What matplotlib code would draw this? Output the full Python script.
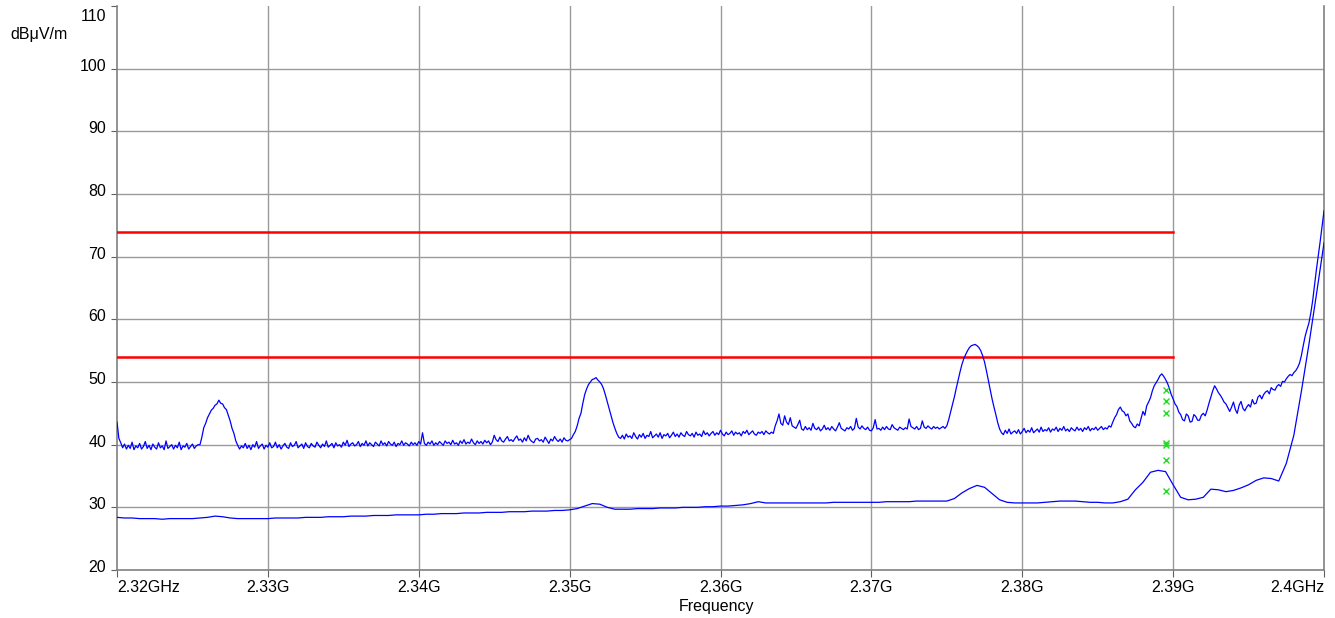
import numpy as np
import matplotlib
matplotlib.use("Agg")
import matplotlib.pyplot as plt
from matplotlib.transforms import ScaledTranslation

plt.rcParams['font.family'] = ['Liberation Sans', 'DejaVu Sans']

# ---------------- data ----------------
# peak-detector trace, sampled every 0.125 MHz from 2320 MHz
upper_start_mhz = 2320.0
upper_step_mhz = 0.125
upper_db = [
    # 2320.0 - 2325.375
    43.6, 41.0, 40.3, 39.5, 40.1, 39.3, 39.9, 39.4, 40.4, 39.2,
    39.8, 39.5, 40.2, 39.3, 39.7, 40.5, 39.4, 39.9, 39.2, 40.1,
    39.6, 39.3, 40.3, 39.5, 39.8, 39.2, 40.6, 39.4, 39.7, 40.0,
    39.3, 39.9, 39.5, 40.4, 39.2, 39.8, 39.6, 40.2, 39.3, 39.7,
    40.1, 39.4, 39.8, 40.0,
    # 2325.5 - 2328.0 (peak 1)
    40.0, 41.2, 42.7, 43.4, 44.3, 44.9, 45.5, 45.8, 46.3, 46.5,
    47.1, 46.6, 46.5, 45.9, 45.6, 44.7, 43.8, 42.6, 41.8, 40.6, 39.9,
    # 2328.125 - 2345.0
    39.3, 39.8, 39.5, 40.2, 39.4, 39.9, 39.2, 40.0, 39.6, 40.5,
    39.4, 39.8, 40.1, 39.3, 39.9, 39.6, 40.3, 39.5, 39.7, 40.4,
    39.5, 40.0, 39.3, 39.8, 40.2, 39.6, 39.4, 40.3, 39.7, 39.9,
    40.5, 39.5, 39.8, 40.1, 39.4, 40.3, 39.7, 39.5, 40.2, 39.8,
    39.6, 40.4, 39.9, 39.5, 40.1, 39.7, 40.6, 39.6, 39.9, 40.2,
    39.5, 40.3, 39.8, 40.0, 39.6, 40.4, 39.9, 40.7, 39.7, 40.1,
    40.3, 39.8, 40.0, 40.5, 39.7, 40.2, 39.9, 40.6, 39.8, 40.3,
    40.0, 39.7, 40.4, 40.1, 39.8, 40.6, 40.0, 40.3, 39.8, 40.5,
    40.1, 39.9, 40.4, 39.7, 40.2, 40.0, 40.6, 39.9, 40.3, 40.1,
    39.8, 40.4, 40.0, 40.3, 39.9, 40.5, 40.1, 41.9, 40.2, 39.9,
    40.4, 40.1, 40.6, 39.9, 40.3, 40.0, 40.5, 40.2, 39.9, 40.6,
    40.2, 40.4, 40.0, 40.7, 40.1, 40.3, 39.9, 40.6, 40.2, 40.8,
    40.1, 40.4, 40.2, 40.9, 40.3, 40.0, 40.6, 40.2, 40.5, 40.1,
    40.7, 40.3, 40.6, 40.0, 40.4, 41.5,
    # 2345.125 - 2350.0
    40.8, 40.5, 41.2, 40.6, 40.4, 40.9, 41.3, 40.6, 40.8, 40.5,
    41.0, 41.4, 40.7, 40.9, 40.4, 41.1, 40.6, 41.5, 40.8, 40.5,
    40.3, 40.9, 41.0, 40.6, 40.8, 40.4, 41.2, 40.7, 40.2, 40.9,
    40.6, 41.3, 40.8, 40.5, 40.9, 40.4, 41.1, 40.7, 40.6, 40.8,
    # 2350.125 - 2353.25 (peak 2)
    41.0, 41.6, 42.1, 43.0, 44.2, 45.0, 46.6, 48.0, 48.9, 49.6,
    50.0, 50.4, 50.5, 50.7, 50.3, 50.0, 49.6, 48.9, 47.9, 46.8,
    45.7, 44.6, 43.5, 42.6, 41.8, 41.2,
    # 2353.375 - 2363.5
    41.0, 41.5, 40.9, 41.7, 41.2, 41.4, 41.0, 41.9, 41.3, 40.9,
    41.6, 41.2, 41.8, 41.0, 41.5, 41.3, 42.1, 41.1, 41.4, 41.7,
    41.2, 41.9, 41.0, 41.6, 41.4, 41.8, 41.1, 41.5, 42.0, 41.3,
    41.7, 41.2, 41.9, 41.5, 41.3, 42.1, 41.6, 41.4, 41.8, 41.2,
    42.0, 41.5, 41.7, 41.3, 42.2, 41.6, 41.9, 41.4, 41.8, 42.1,
    41.5, 41.9, 41.6, 42.3, 41.7, 41.4, 42.0, 41.6, 41.8, 42.2,
    41.5, 42.0, 41.7, 41.9, 41.4, 42.1, 41.8, 42.3, 41.6, 41.9,
    42.2, 41.7, 41.5, 42.0, 41.8, 42.1, 41.6, 42.2, 41.9, 41.7,
    42.0, 41.8,
    # 2363.625 - 2364.875
    43.0, 43.8, 44.9, 43.4, 43.1, 44.6, 43.6, 43.2, 44.3, 43.0, 42.8,
    # 2365.0 - 2374.875
    42.6, 43.2, 43.9, 42.5, 42.3, 42.9, 42.4, 42.7, 42.3, 43.4,
    42.6, 42.4, 42.8, 42.2, 42.5, 43.1, 42.4, 42.7, 42.3, 42.9,
    42.5, 42.2, 42.8, 43.5, 42.6, 42.4, 42.2, 42.7, 42.5, 42.9,
    42.3, 42.6, 44.2, 42.8, 42.5, 43.0, 42.6, 42.4, 42.8, 42.3,
    42.2, 42.7, 44.0, 42.5, 42.6, 42.3, 42.8, 42.4, 42.9, 42.5,
    42.4, 43.2, 42.7, 42.5, 42.3, 42.8, 42.6, 42.4, 42.7, 42.5,
    44.1, 42.9, 42.7, 42.5, 42.9, 42.4, 42.6, 43.8, 42.8, 42.6,
    43.0, 42.7, 42.5, 42.9, 42.6, 42.8, 42.5, 42.7, 42.9, 42.6,
    # 2375.0 - 2378.5 (peak 3)
    43.0, 44.0, 45.2, 46.4, 47.6, 49.0, 50.3, 51.6, 52.8, 53.7,
    54.4, 55.0, 55.5, 55.8, 55.9, 56.0, 55.8, 55.5, 55.0, 54.2,
    53.2, 51.8, 50.3, 48.8, 47.3, 46.0, 44.8, 43.5, 42.5,
    # 2378.625 - 2385.875
    41.9, 41.6, 42.3, 41.8, 42.5, 41.7, 42.0, 42.2, 41.8, 42.4,
    41.7, 42.1, 42.6, 41.9, 42.3, 42.0, 42.7, 41.9, 42.2, 42.5,
    42.0, 42.8, 42.1, 42.4, 42.2, 42.7, 42.0, 42.5, 42.3, 42.8,
    42.1, 42.6, 42.3, 42.9, 42.2, 42.5, 42.1, 42.7, 42.4, 42.2,
    42.8, 42.3, 42.6, 42.1, 42.7, 42.4, 42.9, 42.2, 42.6, 42.4,
    42.8, 42.3, 42.6, 42.9, 42.4, 42.7, 42.5, 43.0, 42.8,
    # 2386.0 - 2389.0
    43.6, 44.3, 44.8, 45.6, 46.0, 45.4, 45.2, 44.6, 44.9, 43.8,
    43.4, 42.9, 42.7, 43.3, 43.0, 44.2, 45.3, 44.7, 46.2, 46.8,
    47.5, 48.6, 49.4, 49.9, 50.4,
    # 2389.125 - 2392.5
    51.0, 51.3, 50.9, 50.4, 49.8, 49.0, 48.0, 47.3, 46.5, 46.1,
    45.2, 44.8, 44.0, 43.8, 44.9, 44.6, 43.6, 43.7, 44.8, 44.5,
    43.9, 43.9, 44.7, 45.0, 44.6, 45.5, 46.6, 47.6,
    # 2392.625 - 2398.375
    48.6, 49.4, 48.9, 48.3, 47.9, 47.4, 46.8, 46.5, 45.9, 45.3,
    46.0, 46.8, 45.6, 45.0, 46.3, 46.9, 45.8, 45.4, 46.0, 46.4,
    46.0, 47.2, 46.5, 46.6, 47.6, 47.9, 47.3, 48.0, 48.4, 48.6,
    48.1, 49.1, 48.8, 48.7, 49.3, 49.6, 49.3, 50.1, 50.0, 50.5,
    50.9, 51.2, 51.0, 51.5, 51.8, 52.3, 53.0,
    # 2398.5 - 2400.0
    54.2, 55.8, 57.3, 58.4, 59.4, 61.0, 63.0, 65.5, 68.0, 70.2,
    72.5, 74.9, 77.3,
]

# average-detector trace, sampled every 0.5 MHz from 2320 MHz
lower_start_mhz = 2320.0
lower_step_mhz = 0.5
lower_db = [
    28.4, 28.3, 28.3, 28.2, 28.2, 28.2, 28.1, 28.2, 28.2, 28.2,
    28.2, 28.3, 28.4, 28.6, 28.5, 28.3, 28.2, 28.2, 28.2, 28.2,
    28.2, 28.3, 28.3, 28.3, 28.3, 28.4, 28.4, 28.4, 28.5, 28.5,
    28.5, 28.6, 28.6, 28.6, 28.7, 28.7, 28.7, 28.8, 28.8, 28.8,
    28.8, 28.9, 28.9, 29.0, 29.0, 29.0, 29.1, 29.1, 29.1, 29.2,
    29.2, 29.2, 29.3, 29.3, 29.3, 29.4, 29.4, 29.4, 29.5, 29.5,
    29.6, 29.8, 30.2, 30.6, 30.5, 30.0, 29.7, 29.7, 29.7, 29.8,
    29.8, 29.8, 29.9, 29.9, 29.9, 30.0, 30.0, 30.0, 30.1, 30.1,
    30.2, 30.2, 30.3, 30.4, 30.6, 30.9, 30.7, 30.7, 30.7, 30.7,
    30.7, 30.7, 30.7, 30.7, 30.7, 30.8, 30.8, 30.8, 30.8, 30.8,
    30.8, 30.8, 30.9, 30.9, 30.9, 30.9, 31.0, 31.0, 31.0, 31.0,
    31.0, 31.4, 32.3, 33.0, 33.5, 33.2, 32.2, 31.2, 30.8, 30.7,
    30.7, 30.7, 30.7, 30.8, 30.9, 31.0, 31.0, 31.0, 30.9, 30.8,
    30.8, 30.7, 30.7, 30.9, 31.3, 32.8, 34.0, 35.6, 35.9, 35.7,
    33.6, 31.6, 31.2, 31.3, 31.6, 32.9, 32.8, 32.5, 32.7, 33.1,
    33.6, 34.3, 34.7, 34.6, 34.2, 37.0, 41.5, 48.5, 56.0, 64.0,
    72.2,
]

# limit lines
limit_levels = [74.0, 54.0]
limit_start_ghz = 2.32
limit_end_ghz = 2.39

# green markers
marker_freq_ghz = [2.3895] * 7
marker_db = [48.8, 46.9, 45.1, 40.3, 39.9, 37.5, 32.6]

xticks = [2.32, 2.33, 2.34, 2.35, 2.36, 2.37, 2.38, 2.39, 2.40]
xtick_labels = ["2.32GHz", "2.33G", "2.34G", "2.35G", "2.36G", "2.37G", "2.38G", "2.39G", "2.4GHz"]
yticks = [20, 30, 40, 50, 60, 70, 80, 90, 100, 110]

# ---------------- figure ----------------
W, H, DPI = 1335, 618, 100
FS = 11.5
fig = plt.figure(figsize=(W / DPI, H / DPI), dpi=DPI)
ax = fig.add_axes([117 / W, 1 - 570 / H, (1324 - 117) / W, (570 - 6) / H])

upper_f = (upper_start_mhz + upper_step_mhz * np.arange(len(upper_db))) / 1000.0
lower_f = (lower_start_mhz + lower_step_mhz * np.arange(len(lower_db))) / 1000.0

grid_col = "#9a9a9a"
ax.set_xlim(2.32, 2.40)
ax.set_ylim(20, 110)
ax.set_xticks(xticks)
ax.set_xticklabels(xtick_labels)
ax.set_yticks(yticks)
ax.grid(True, color=grid_col, linewidth=1.0, zorder=0)
ax.get_ygridlines()[-1].set_visible(False)
ax.get_ygridlines()[0].set_visible(False)
ax.get_xgridlines()[0].set_visible(False)
ax.get_xgridlines()[-1].set_visible(False)
ax.set_axisbelow(True)

for lvl in limit_levels:
    ax.plot([limit_start_ghz, limit_end_ghz], [lvl, lvl], color="#ff0000", lw=1.8, zorder=3)

ax.plot(upper_f, upper_db, color="#0000ff", lw=0.9, zorder=4)
ax.plot(lower_f, lower_db, color="#0000ff", lw=0.9, zorder=4)
ax.plot(marker_freq_ghz, marker_db, linestyle="none", marker="x", color="#22dd22",
        markersize=5, markeredgewidth=1.0, zorder=5)

for side in ["left", "bottom", "right"]:
    ax.spines[side].set_color("#808080")
    ax.spines[side].set_linewidth(1.2)
ax.spines["top"].set_visible(False)

ax.tick_params(axis="both", direction="out", color="#606060", labelsize=FS, labelcolor="black")
ax.tick_params(axis="x", length=5, pad=2.5)
ax.tick_params(axis="y", length=4.3, pad=3.5)

labels = ax.get_xticklabels()
labels[0].set_ha("left")
labels[-1].set_ha("right")
for lab in ax.get_yticklabels():
    lab.set_transform(lab.get_transform() + ScaledTranslation(0, 0.04, fig.dpi_scale_trans))
ylabs = ax.get_yticklabels()
ylabs[-1].set_transform(ylabs[-1].get_transform() + ScaledTranslation(0, -0.13, fig.dpi_scale_trans))

fig.text(10 / W, 1 - 35 / H, "dBμV/m", fontsize=FS, ha="left", va="center")
fig.text(717 / W, 1 - 606 / H, "Frequency", fontsize=FS, ha="center", va="center")

fig.savefig("out.png", dpi=DPI)
